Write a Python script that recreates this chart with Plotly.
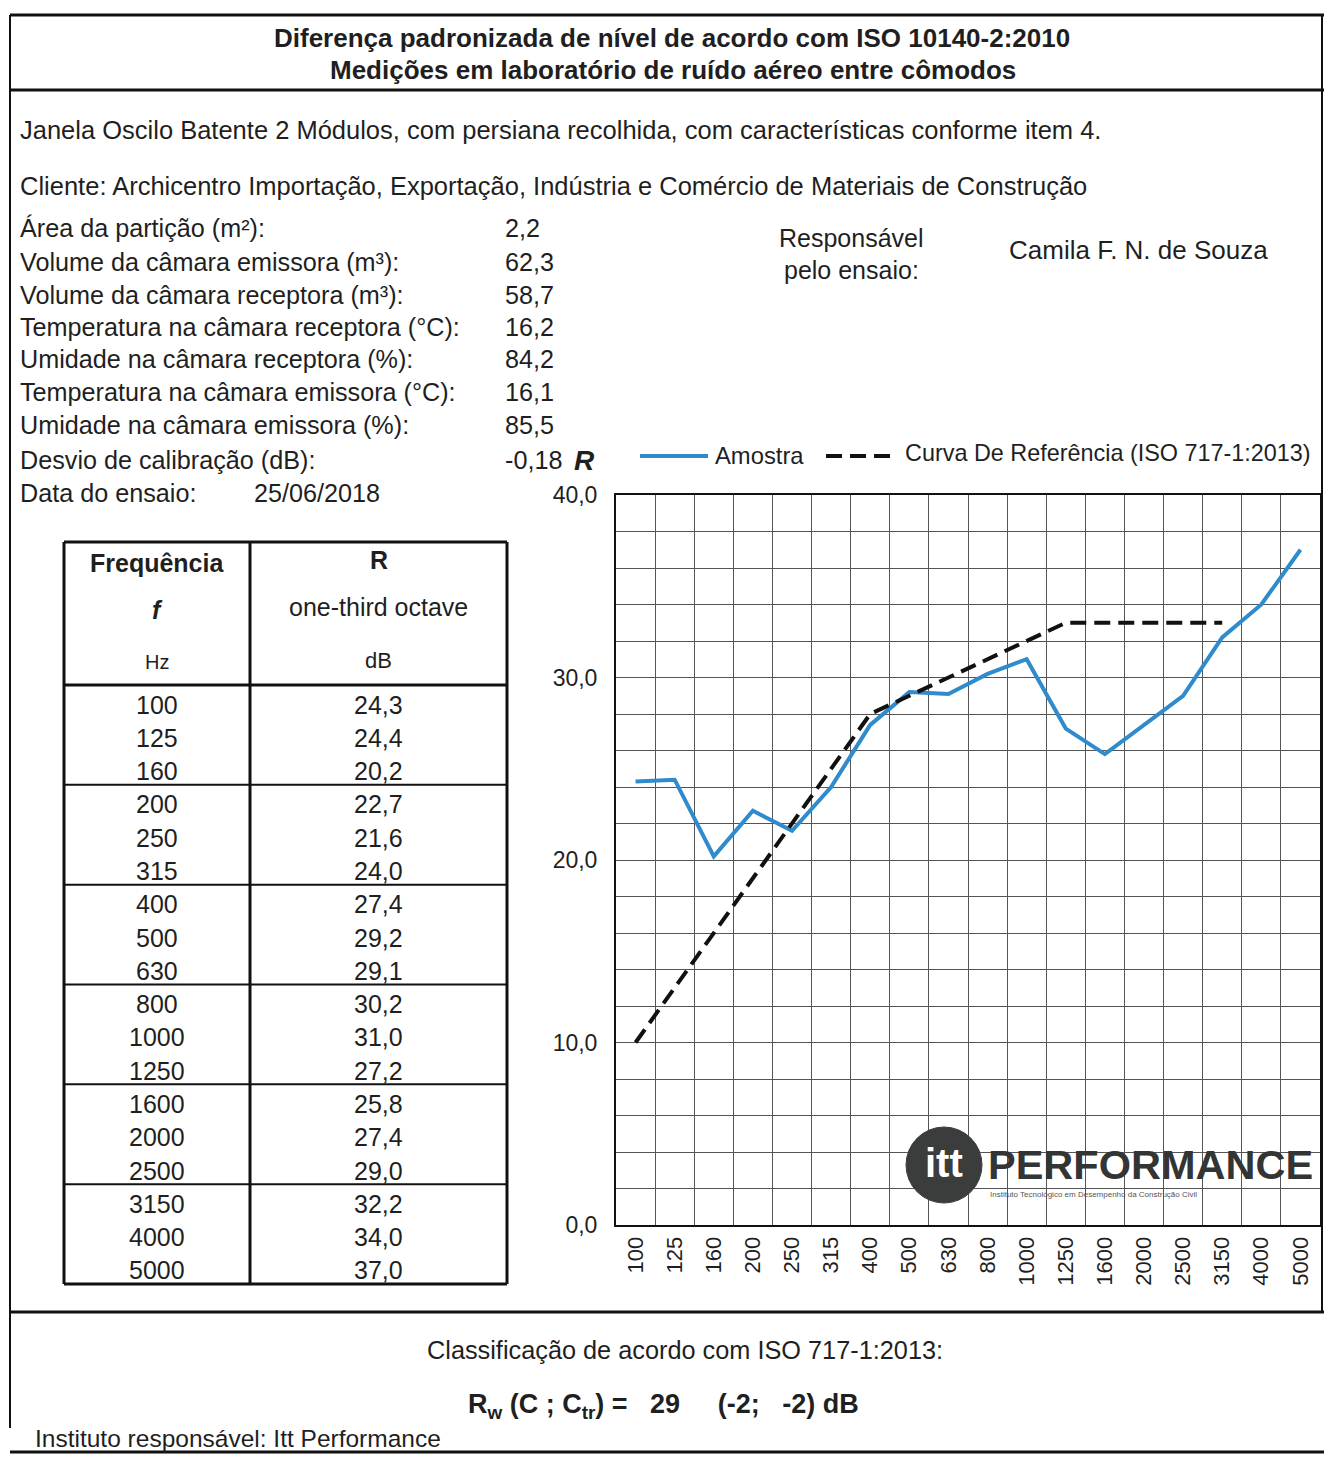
import plotly.graph_objects as go

# The page body has an 8px margin; the figure is sized so the page fits the window exactly.
OFF = 8
W, H = 1332 - 2 * OFF, 1463 - 2 * OFF
FONT = "Liberation Sans, Arial, sans-serif"
INK = "#1f1f1f"

# ---------------- data ----------------
freqs = ["100", "125", "160", "200", "250", "315", "400", "500", "630",
         "800", "1000", "1250", "1600", "2000", "2500", "3150", "4000", "5000"]
r_values = [24.3, 24.4, 20.2, 22.7, 21.6, 24.0, 27.4, 29.2, 29.1,
            30.2, 31.0, 27.2, 25.8, 27.4, 29.0, 32.2, 34.0, 37.0]
ref_freqs = freqs[:16]
ref_values = [10, 13, 16, 19, 22, 25, 28, 29, 30, 31, 32, 33, 33, 33, 33, 33]
y_ticks = [0, 10, 20, 30, 40]
y_tick_labels = ["0,0", "10,0", "20,0", "30,0", "40,0"]

info_labels = ["Área da partição (m²):", "Volume da câmara emissora (m³):",
               "Volume da câmara receptora (m³):", "Temperatura na câmara receptora (°C):",
               "Umidade na câmara receptora (%):", "Temperatura na câmara emissora (°C):",
               "Umidade na câmara emissora (%):", "Desvio de calibração (dB):"]
info_values = ["2,2", "62,3", "58,7", "16,2", "84,2", "16,1", "85,5", "-0,18"]
test_date = "25/06/2018"
rw_value, c_value, ctr_value = 29, -2, -2

BLUE = "#2f8bcc"
DASH = "16px,8px"


def X(px):
    return (px - OFF) / W


def Y(py):
    return 1 - (py - OFF) / H


def fmt(v):
    return f"{v:.1f}".replace(".", ",")


fig = go.Figure()
fig.add_trace(go.Scatter(x=freqs, y=r_values, mode="lines", name="Amostra",
                         line=dict(color=BLUE, width=4), showlegend=False))
fig.add_trace(go.Scatter(x=ref_freqs, y=ref_values, mode="lines",
                         name="Curva De Referência (ISO 717-1:2013)",
                         line=dict(color="#111111", width=4, dash=DASH), showlegend=False))

shapes = []
ann = []


def hline(x0, x1, y, w=2, c="#111111"):
    shapes.append(dict(type="line", xref="paper", yref="paper", x0=X(x0), x1=X(x1),
                       y0=Y(y), y1=Y(y), line=dict(color=c, width=w)))


def vline(x, y0, y1, w=2, c="#111111"):
    shapes.append(dict(type="line", xref="paper", yref="paper", x0=X(x), x1=X(x),
                       y0=Y(y0), y1=Y(y1), line=dict(color=c, width=w)))


def text(px, py, s, size=25, anchor="left", bold=False, color=INK, italic=False):
    if bold:
        s = f"<b>{s}</b>"
    if italic:
        s = f"<i>{s}</i>"
    ann.append(dict(xref="paper", yref="paper", x=X(px), y=Y(py), text=s, showarrow=False,
                    xanchor=anchor, yanchor="middle",
                    font=dict(family=FONT, size=size, color=color)))


# page frame
hline(10, 1324, 15, 3)
hline(10, 1324, 90, 3)
hline(10, 1324, 1312, 3)
hline(10, 1324, 1452, 3)
vline(10, 15, 1428, 2)
vline(1322, 15, 1312, 2)

# titles
text(672, 38, "Diferença padronizada de nível de acordo com ISO 10140-2:2010", 26, "center", True)
text(673, 70, "Medições em laboratório de ruído aéreo entre cômodos", 26, "center", True)
text(18, 130, "Janela Oscilo Batente 2 Módulos, com persiana recolhida, com características conforme item 4.", 25.5)
text(18, 186, "Cliente: Archicentro Importação, Exportação, Indústria e Comércio de Materiais de Construção", 25.5)

info_y = [228, 262, 295, 327, 359, 392, 425, 460]
for lab, val, yy in zip(info_labels, info_values, info_y):
    text(18, yy, lab, 25.2)
    text(503, yy, val, 25.2)
text(18, 493, "Data do ensaio:", 25.2)
text(252, 493, test_date, 25.2)

text(851, 238, "Responsável", 25, "center")
text(851, 270, "pelo ensaio:", 25, "center")
text(1007, 250, "Camila F. N. de Souza", 26)

# axis name and legend
text(572, 461, "R", 28, "left", True, italic=True)
shapes.append(dict(type="line", xref="paper", yref="paper", x0=X(640), x1=X(708),
                   y0=Y(456), y1=Y(456), line=dict(color=BLUE, width=4)))
text(713, 456, "Amostra", 23.8)
shapes.append(dict(type="line", xref="paper", yref="paper", x0=X(826), x1=X(892),
                   y0=Y(456), y1=Y(456), line=dict(color="#111111", width=4, dash=DASH)))
text(903, 453, "Curva De Referência (ISO 717-1:2013)", 23.4)

# table
TL, TR, TM, TT, TB, THB = 64, 507, 250, 542, 1284, 685
hline(TL, TR, TT, 3)
hline(TL, TR, TB, 3)
hline(TL, TR, THB, 3)
vline(TL, TT, TB, 3)
vline(TR, TT, TB, 3)
vline(TM, TT, TB, 3)
row_h = (TB - THB) / len(freqs)
for k in range(3, len(freqs), 3):
    hline(TL, TR, THB + k * row_h, 2)
cx1, cx2 = (TL + TM) / 2, (TM + TR) / 2
text(cx1, 563, "Frequência", 25, "center", True)
text(cx1, 610, "f", 25, "center", True, italic=True)
text(cx1, 662, "Hz", 20, "center")
text(cx2, 560, "R", 25, "center", True)
text(cx2, 607, "one-third octave", 25, "center")
text(cx2, 660, "dB", 22, "center")
for i, (f, v) in enumerate(zip(freqs, r_values)):
    yy = THB + (i + 0.5) * row_h + 3
    text(cx1, yy, f, 25, "center")
    text(cx2, yy, fmt(v), 25, "center")

# logo watermark
shapes.append(dict(type="circle", xref="paper", yref="paper", x0=X(906), x1=X(982),
                   y0=Y(1203), y1=Y(1127), fillcolor="#3b3d3c", line=dict(color="#3b3d3c", width=1),
                   layer="above"))
text(944, 1163, "itt", 40, "center", True, color="white")
text(986, 1164, "PERFORMANCE", 41.5, "left", True, color="#333535")
text(988, 1194, "Instituto Tecnológico em Desempenho da Construção Civil", 8, "left", False, color="#555555")

# bottom
text(685, 1350, "Classificação de acordo com ISO 717-1:2013:", 25.3, "center")
text(663, 1406,
     f"R<sub>w</sub> (C ; C<sub>tr</sub>) =\u00a0\u00a0 {rw_value} \u00a0\u00a0\u00a0 ({c_value};\u00a0\u00a0 {ctr_value}) dB",
     27, "center", True)
text(33, 1438, "Instituto responsável: Itt Performance", 24.5)

fig.update_layout(
    width=W, height=H, margin=dict(l=0, r=0, t=0, b=0, autoexpand=False),
    paper_bgcolor="white", plot_bgcolor="white",
    shapes=shapes, annotations=ann, showlegend=False,
    font=dict(family=FONT, color=INK),
    xaxis=dict(domain=[X(616), X(1320)], type="category", range=[-0.5, 17.5], automargin=False,
               tickson="boundaries", showgrid=True, gridcolor="#555555", gridwidth=1.2,
               showline=True, linecolor="#111111", linewidth=2, mirror=True,
               tickangle=-90, ticks="", tickfont=dict(family=FONT, size=22, color=INK),
               ticklabelstandoff=1, zeroline=False),
    yaxis=dict(domain=[Y(1225), Y(495)], range=[0, 40], tickvals=y_ticks, ticktext=y_tick_labels,
               automargin=False,
               showgrid=True, gridcolor="#555555", gridwidth=1.2,
               minor=dict(dtick=2, tick0=0, showgrid=True, gridcolor="#555555", gridwidth=1.2),
               showline=True, linecolor="#111111", linewidth=2, mirror=True, zeroline=False,
               ticks="", tickfont=dict(family=FONT, size=23, color=INK), ticklabelstandoff=12),
)

fig.write_html("out.html")
